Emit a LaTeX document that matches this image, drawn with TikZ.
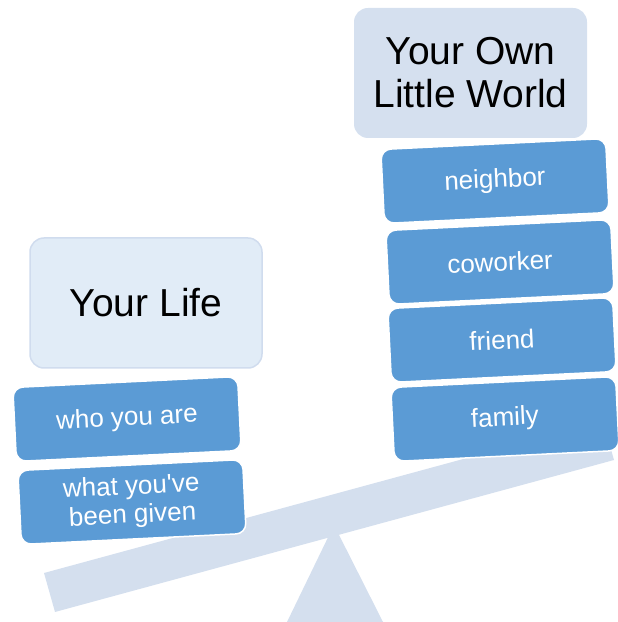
\documentclass[tikz,border=0pt]{standalone}
\usepackage{fontspec}
\setmainfont{Liberation Sans}
\definecolor{beamcol}{HTML}{D4DFEE}
\definecolor{worldfill}{HTML}{D5E0EF}
\definecolor{lifefill}{HTML}{E1ECF7}
\definecolor{lifeline}{HTML}{D0DCEE}
\definecolor{itemblue}{HTML}{5B9BD5}
\tikzset{
  titlebox/.style={rounded corners=14pt, minimum width=232pt, minimum height=130pt, inner sep=0pt, align=center, text=black, font=\fontsize{39}{43}\selectfont},
  itembox/.style={rounded corners=10pt, fill=itemblue, draw=white, line width=1.5pt, minimum width=225pt, minimum height=74pt, inner sep=0pt, align=center, text=white, font=\fontsize{26}{28.5}\selectfont, rotate=2.8},
  beamshape/.style={fill=beamcol, draw=none}
}
\begin{document}
\begin{tikzpicture}[x=1pt,y=1pt]
\useasboundingbox (0,0) rectangle (618,622);
% fulcrum and beam
\fill[beamshape] (287,0) -- (334,97) -- (383,0) -- cycle;
\fill[beamshape] (44,49) -- (55,10) -- (614,162) -- (603,201) -- cycle;
% title boxes
\node[titlebox, fill=worldfill, minimum width=233pt] (world) at (470.5,549) {Your Own\\Little World};
\node[titlebox, fill=lifefill, draw=lifeline, line width=1.5pt] (life) at (146,319) {Your Life};
% left stack
\node[itembox] (who) at (127,203) {who you are};
\node[itembox] (what) at (132,120) {what you\textquotesingle ve\\been given};
% right stack
\node[itembox] (neighbor) at (495,441) {neighbor};
\node[itembox] (coworker) at (500,360) {coworker};
\node[itembox] (friend) at (502,282) {friend};
\node[itembox] (family) at (505,203) {family};
\end{tikzpicture}
\end{document}
